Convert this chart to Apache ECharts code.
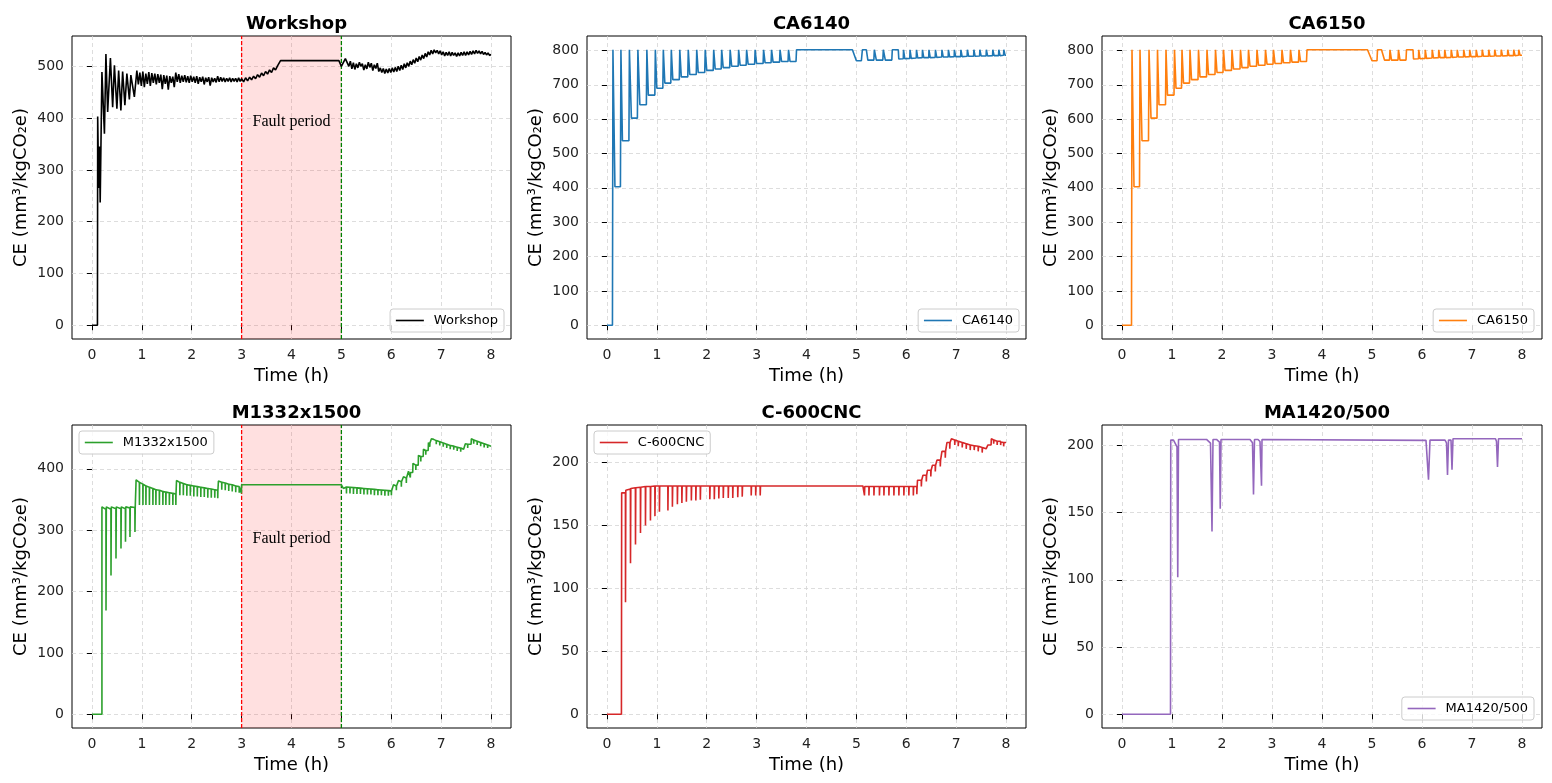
<!DOCTYPE html>
<html><head><meta charset="utf-8">
<script src="https://cdn.jsdelivr.net/npm/echarts@6/dist/echarts.min.js"></script>
<style>html,body{margin:0;padding:0;background:#fff}#chart{width:1552px;height:783px}</style>
</head><body><div id="chart"></div>
<script>
// ---------------- data (time in h, CE in mm³/kgCO2e) ----------------
const xTicks = [0,1,2,3,4,5,6,7,8];
const yTicksWorkshop = [0,100,200,300,400,500];
const yTicksCA = [0,100,200,300,400,500,600,700,800];
const yTicksM1332 = [0,100,200,300,400];
const yTicksC600 = [0,50,100,150,200];
const yTicksMA = [0,50,100,150,200];
const faultStart = 3, faultEnd = 5, faultText = 'Fault period';
const faultLabelWorkshop = [4, 392];
const faultLabelM1332 = [4, 286];

const workshop = [
[0,0],[0.11,0],[0.115,403],[0.135,265],[0.15,345],[0.165,237],[0.2,489],[0.25,370],[0.28,524],[0.315,412],[0.37,516],[0.415,421],[0.45,502],[0.5,418],[0.535,492],[0.58,415],[0.615,490],[0.66,425],[0.7,486],[0.75,436],[0.78,483],[0.85,441],[0.9,492],
[0.93,465],[0.96,488],[0.99,462],[1.02,490],[1.05,460],[1.08,486],[1.11,466],[1.14,489],[1.17,462],[1.2,487],[1.23,468],[1.26,486],[1.29,465],[1.32,485],[1.35,468],[1.38,484],[1.41,456],[1.44,483],[1.47,466],[1.5,482],[1.53,455],[1.56,481],[1.59,468],[1.62,480],[1.65,460],[1.68,488],[1.71,470],[1.74,485],[1.77,468],[1.8,482],[1.83,470],[1.86,483],[1.89,469],[1.92,481],[1.95,468],[1.98,482],[2.01,470],[2.04,480],[2.07,468],[2.1,481],[2.13,466],[2.16,479],[2.19,470],[2.22,480],[2.25,465],[2.28,478],[2.31,470],[2.34,479],[2.37,463],[2.4,478],[2.43,470],[2.46,477],[2.49,469],[2.52,481],[2.55,470],[2.58,479],[2.61,471],[2.64,478],[2.67,470],[2.7,477],[2.73,471],[2.76,478],[2.79,470],[2.82,477],[2.85,471],[2.88,477],[2.91,470],[2.94,478],[2.97,471],[3.0,476],
[3.04,470],[3.08,478],[3.12,472],[3.16,479],[3.2,474],[3.24,481],[3.28,476],[3.32,484],[3.36,479],[3.4,487],[3.44,482],[3.48,490],[3.52,485],[3.56,493],[3.6,488],[3.64,497],[3.68,493],[3.72,501],[3.76,498],[3.78,511],[4.95,511],[5.0,500],
[5.04,498],[5.08,515],[5.12,512],[5.15,500],[5.18,510],[5.21,495],[5.24,507],[5.27,494],[5.3,505],[5.33,497],[5.36,508],[5.39,500],[5.42,505],[5.45,493],[5.48,503],[5.51,495],[5.54,508],[5.57,498],[5.6,506],[5.63,492],[5.66,503],[5.69,496],[5.72,506],[5.75,490],[5.78,497],[5.81,488],[5.84,496],[5.87,486],[5.9,495],[5.93,487],[5.96,496],[5.99,488],[6.02,497],[6.05,489],[6.08,498],[6.11,490],[6.14,500],[6.17,492],[6.2,502],[6.23,494],[6.26,505],[6.29,497],[6.32,507],[6.35,500],[6.38,510],[6.41,503],[6.44,513],[6.47,506],[6.5,516],[6.53,509],[6.56,519],[6.59,512],[6.62,522],[6.65,515],[6.68,525],[6.71,518],[6.74,528],[6.77,522],[6.8,531],[6.83,524],[6.86,532],[6.89,526],[6.92,531],[6.95,524],[6.98,530],[7.01,522],[7.04,528],[7.07,520],[7.1,527],[7.13,521],[7.16,528],[7.19,520],[7.22,527],[7.25,521],[7.28,526],[7.31,519],[7.34,526],[7.37,520],[7.4,527],[7.43,521],[7.46,528],[7.49,521],[7.52,528],[7.55,522],[7.58,529],[7.61,523],[7.64,530],[7.67,524],[7.7,531],[7.73,525],[7.76,530],[7.79,524],[7.82,529],[7.85,523],[7.88,527],[7.91,522],[7.94,526],[7.97,521],[8.0,523]
];

const ca6140 = [
[0,0],[0.11,0],[0.12,802],[0.15,802],[0.16,403],[0.27,403],[0.28,802],[0.30,802],[0.31,537],[0.44,537],[0.45,802],[0.48,802],[0.49,603],[0.61,603],[0.62,802],[0.65,802],[0.66,642],[0.79,642],[0.80,802],[0.82,802],[0.83,670],[0.96,670],[0.97,802],[0.99,802],[1.00,690],[1.12,690],[1.13,802],[1.15,802],[1.16,705],[1.28,705],[1.29,802],[1.31,802],[1.32,715],[1.45,715],[1.46,802],[1.48,802],[1.49,723],[1.62,723],[1.63,802],[1.65,802],[1.66,730],[1.79,730],[1.80,802],[1.82,802],[1.83,736],[1.96,736],[1.97,802],[1.99,802],[2.00,742],[2.13,742],[2.14,802],[2.16,802],[2.17,746],[2.29,746],[2.30,802],[2.32,802],[2.33,750],[2.46,750],[2.47,802],[2.49,802],[2.50,754],[2.63,754],[2.64,802],[2.66,802],[2.67,757],[2.79,757],[2.80,802],[2.82,802],[2.83,760],[2.96,760],[2.97,802],[2.99,802],[3.00,762],[3.13,762],[3.14,802],[3.16,802],[3.17,764],[3.29,764],[3.30,802],[3.32,802],[3.33,766],[3.46,766],[3.47,802],[3.49,802],[3.50,768],[3.63,768],[3.64,802],[3.66,802],[3.67,768],[3.79,768],[3.80,802],[4.92,802],[5.00,770],[5.10,770],[5.12,802],[5.20,802],[5.23,772],[5.35,772],[5.36,802],[5.39,802],[5.40,772],[5.53,772],[5.54,802],[5.57,802],[5.58,772],[5.71,772],[5.72,802],[5.84,802],[5.85,775],
[5.94,776],[5.945,802],[5.965,802],[5.97,776],[6.07,777],[6.075,802],[6.095,802],[6.10,777],[6.20,778],[6.205,802],[6.225,802],[6.23,778],[6.32,779],[6.325,802],[6.345,802],[6.35,779],[6.45,779],[6.455,802],[6.475,802],[6.48,779],[6.58,780],[6.585,802],[6.605,802],[6.61,780],[6.71,781],[6.715,802],[6.735,802],[6.74,781],[6.84,781],[6.845,802],[6.865,802],[6.87,781],[6.96,782],[6.965,802],[6.985,802],[6.99,782],[7.09,782],[7.095,802],[7.115,802],[7.12,782],[7.22,783],[7.225,802],[7.245,802],[7.25,783],[7.35,783],[7.355,802],[7.375,802],[7.38,783],[7.47,784],[7.475,802],[7.495,802],[7.50,784],[7.60,784],[7.605,802],[7.625,802],[7.63,784],[7.73,785],[7.735,802],[7.755,802],[7.76,785],[7.85,785],[7.855,802],[7.875,802],[7.88,785],[7.95,786],[7.955,802],[7.975,802],[7.98,786],[8.0,786]
];

const ca6150 = [
[0,0],[0.19,0],[0.2,802],[0.23,802],[0.24,403],[0.35,403],[0.36,802],[0.39,802],[0.40,537],[0.53,537],[0.54,802],[0.57,802],[0.58,603],[0.70,603],[0.71,802],[0.73,802],[0.74,642],[0.87,642],[0.88,802],[0.90,802],[0.91,670],[1.04,670],[1.05,802],[1.07,802],[1.08,690],[1.19,690],[1.20,802],[1.22,802],[1.23,705],[1.35,705],[1.36,802],[1.38,802],[1.39,715],[1.52,715],[1.53,802],[1.55,802],[1.56,723],[1.69,723],[1.70,802],[1.72,802],[1.73,730],[1.86,730],[1.87,802],[1.89,802],[1.90,736],[2.02,736],[2.03,802],[2.05,802],[2.06,742],[2.19,742],[2.20,802],[2.22,802],[2.23,746],[2.36,746],[2.37,802],[2.39,802],[2.40,750],[2.52,750],[2.53,802],[2.55,802],[2.56,754],[2.69,754],[2.70,802],[2.72,802],[2.73,757],[2.86,757],[2.87,802],[2.89,802],[2.90,760],[3.02,760],[3.03,802],[3.05,802],[3.06,762],[3.19,762],[3.20,802],[3.22,802],[3.23,764],[3.36,764],[3.37,802],[3.39,802],[3.40,766],[3.53,766],[3.54,802],[3.56,802],[3.57,768],[3.69,768],[3.70,802],[4.91,802],[5.00,770],[5.10,770],[5.11,802],[5.19,802],[5.25,772],[5.35,772],[5.36,802],[5.38,802],[5.39,772],[5.52,772],[5.53,802],[5.55,802],[5.56,772],[5.68,772],[5.69,802],[5.82,802],[5.83,775],
[5.93,776],[5.935,802],[5.955,802],[5.96,776],[6.06,777],[6.065,802],[6.085,802],[6.09,777],[6.20,778],[6.205,802],[6.225,802],[6.23,778],[6.33,779],[6.335,802],[6.355,802],[6.36,779],[6.45,779],[6.455,802],[6.475,802],[6.48,779],[6.58,780],[6.585,802],[6.605,802],[6.61,780],[6.70,781],[6.705,802],[6.725,802],[6.73,781],[6.83,781],[6.835,802],[6.855,802],[6.86,781],[6.95,782],[6.955,802],[6.975,802],[6.98,782],[7.08,782],[7.085,802],[7.105,802],[7.11,782],[7.20,783],[7.205,802],[7.225,802],[7.23,783],[7.33,783],[7.335,802],[7.355,802],[7.36,783],[7.45,784],[7.455,802],[7.475,802],[7.48,784],[7.58,784],[7.585,802],[7.605,802],[7.61,784],[7.71,785],[7.715,802],[7.735,802],[7.74,785],[7.83,785],[7.835,802],[7.855,802],[7.86,785],[7.93,786],[7.935,802],[7.955,802],[7.96,786],[8.0,786]
];

const m1332 = [
[0,0],[0.2,0],[0.2,338],[0.28,334],[0.282,169],[0.288,338],[0.38,334],[0.382,226],[0.388,338],[0.48,335],[0.482,254],[0.488,338],[0.58,335],[0.582,270],[0.588,338],[0.67,335],[0.672,281],[0.678,338],[0.76,336],[0.762,289],[0.768,338],[0.86,337],[0.862,297],[0.868,338],[0.88,338],[0.885,382],
[0.95,378],[0.952,341],[0.955,378],[1.02,375],[1.022,341],[1.025,375],[1.08,372],[1.082,341],[1.085,372],[1.15,370],[1.152,341],[1.155,370],[1.22,368],[1.222,341],[1.225,368],[1.28,366],[1.282,341],[1.285,366],[1.35,365],[1.352,341],[1.355,365],[1.42,363],[1.422,341],[1.425,363],[1.48,362],[1.482,341],[1.485,362],[1.55,361],[1.552,341],[1.555,361],[1.62,360],[1.622,341],[1.625,360],[1.68,359],[1.682,341],[1.685,359],[1.69,359],[1.695,381],
[1.76,378],[1.762,357],[1.765,378],[1.83,376],[1.832,357],[1.835,376],[1.9,374],[1.902,356],[1.905,374],[1.97,373],[1.972,356],[1.975,373],[2.04,372],[2.042,355],[2.045,372],[2.11,371],[2.112,355],[2.115,371],[2.18,370],[2.182,354],[2.185,370],[2.25,369],[2.252,354],[2.255,369],[2.32,368],[2.322,353],[2.325,368],[2.39,367],[2.392,353],[2.395,367],[2.46,366],[2.462,353],[2.465,366],[2.52,365],[2.522,352],[2.525,365],[2.53,365],[2.535,380],
[2.6,378],[2.602,366],[2.605,378],[2.67,377],[2.672,365],[2.675,377],[2.74,375],[2.742,364],[2.745,375],[2.81,374],[2.812,363],[2.815,374],[2.88,372],[2.882,362],[2.885,372],[2.95,371],[2.952,361],[2.955,371],[2.99,370],[2.995,360],[3.0,374],[5.0,374],[5.04,368],[5.07,371],
[5.1,370.5],[5.102,360],[5.105,370.5],[5.17,370],[5.172,360],[5.175,370],[5.24,369.5],[5.242,359],[5.245,369.5],[5.31,369],[5.312,359],[5.315,369],[5.38,368.5],[5.382,359],[5.385,368.5],[5.45,368],[5.452,358],[5.455,368],[5.52,367.5],[5.522,358],[5.525,367.5],[5.59,367],[5.592,358],[5.595,367],[5.66,366.5],[5.662,357],[5.665,366.5],[5.73,366],[5.732,357],[5.735,366],[5.8,365.5],[5.802,357],[5.805,365.5],[5.87,365],[5.872,356],[5.875,365],[5.94,364.5],[5.942,356],[5.945,364.5],[6.0,364],[6.002,357],[6.005,364],
[6.04,364],[6.045,374],[6.1,372],[6.102,365],[6.105,372],[6.14,372],[6.145,381],[6.2,379],[6.202,371],[6.205,379],[6.24,379],[6.245,387],[6.3,385],[6.302,377],[6.305,385],[6.34,385],[6.345,396],[6.38,394],[6.382,386],[6.385,394],[6.43,394],[6.435,409],[6.49,406],[6.492,398],[6.495,406],[6.54,406],[6.545,422],[6.59,420],[6.592,412],[6.595,420],[6.64,420],[6.645,432],[6.69,430],[6.692,423],[6.695,430],[6.74,430],[6.745,443],[6.77,442],[6.772,436],[6.775,442],[6.8,442],[6.805,449],[6.85,448],
[6.9,446],[6.902,440],[6.905,446],[6.97,444],[6.972,438],[6.975,444],[7.04,442],[7.042,436],[7.045,442],[7.11,440],[7.112,434],[7.115,440],[7.18,438],[7.182,432],[7.185,438],[7.25,437],[7.252,431],[7.255,437],[7.32,435],[7.322,429],[7.325,435],[7.39,434],[7.392,428],[7.395,434],[7.45,432],[7.48,432],[7.485,441],[7.53,440],[7.532,434],[7.535,440],[7.6,440],[7.605,449],[7.65,447],[7.652,441],[7.655,447],[7.72,445],[7.722,439],[7.725,445],[7.79,443],[7.792,437],[7.795,443],[7.86,441],[7.862,435],[7.865,441],[7.93,439],[7.932,434],[7.935,439],[8.0,437]
];

const c600 = [
[0,0],[0.29,0],[0.295,176],[0.37,176],[0.372,89],[0.378,178],[0.47,179],[0.472,120],[0.478,179.5],[0.57,180],[0.572,135],[0.578,180],[0.67,180.5],[0.672,144],[0.678,180.5],[0.77,181],[0.772,150],[0.778,181],[0.87,181],[0.872,154],[0.878,181],[0.96,181.5],[0.962,157.5],[0.968,181.5],[1.05,181.5],[1.052,161],[1.058,181.5],[1.22,181.5],[1.222,162],[1.228,181.5],[1.31,181.5],[1.312,165],[1.318,181.5],[1.41,181.5],[1.412,167],[1.418,181.5],[1.5,181.5],[1.502,168],[1.508,181.5],[1.59,181.5],[1.592,169],[1.598,181.5],[1.69,181.5],[1.692,170],[1.698,181.5],[1.78,181.5],[1.782,170],[1.788,181.5],[1.87,181.5],[1.872,170.5],[1.878,181.5],[2.06,181.5],[2.062,171],[2.068,181.5],[2.15,181.5],[2.152,171],[2.158,181.5],[2.24,181.5],[2.242,171.5],[2.248,181.5],[2.33,181.5],[2.332,172],[2.338,181.5],[2.43,181.5],[2.432,172],[2.438,181.5],[2.52,181.5],[2.522,172],[2.528,181.5],[2.62,181.5],[2.622,172.5],[2.628,181.5],[2.71,181.5],[2.712,173],[2.718,181.5],[2.89,181.5],[2.892,174],[2.898,181.5],[2.98,181.5],[2.982,174],[2.988,181.5],[3.07,181.5],[3.072,174],[3.078,181.5],
[5.13,181.5],[5.16,181],[5.162,174],[5.168,181],[5.25,181],[5.252,174],[5.258,181],[5.35,181],[5.352,174],[5.358,181],[5.46,181],[5.462,174],[5.468,181],[5.55,181],[5.552,174],[5.558,181],[5.65,181],[5.652,174],[5.658,181],[5.75,181],[5.752,174],[5.758,181],[5.85,181],[5.852,174],[5.858,181],[5.95,181],[5.952,174],[5.958,181],[6.05,181],[6.052,174],[6.058,181],[6.14,181],[6.142,174],[6.148,181],[6.21,181],[6.212,175],[6.218,181],
[6.22,181],[6.225,186],[6.3,186],[6.302,181],[6.308,186],[6.33,186],[6.335,190],[6.4,190],[6.402,185],[6.408,190],[6.42,190],[6.425,194],[6.49,194],[6.492,189],[6.498,194],[6.52,194],[6.525,198],[6.58,198],[6.582,193],[6.588,198],[6.61,198],[6.615,202],[6.68,202],[6.682,197],[6.688,202],[6.71,202],[6.715,209],[6.78,209],[6.782,204],[6.788,209],[6.81,209],[6.815,216],[6.87,216],[6.872,211],[6.878,216],[6.9,216],[6.905,219],
[6.97,218],[6.972,214],[6.978,218],[7.04,217],[7.042,213],[7.048,217],[7.12,216],[7.122,212],[7.128,216],[7.2,215],[7.202,211],[7.208,215],[7.28,214],[7.282,210],[7.288,214],[7.36,213.5],[7.362,210],[7.368,213.5],[7.44,213],[7.442,209],[7.448,213],[7.52,212],[7.522,208],[7.528,212],[7.6,211],[7.63,211],[7.635,214],[7.7,214],[7.705,219],[7.75,218],[7.752,215],[7.758,218],[7.82,217],[7.822,214],[7.828,217],[7.89,217],[7.892,214],[7.898,216.5],[7.95,216],[7.952,213],[7.958,216],[8.0,216]
];

const ma1420 = [
[0,0],[0.97,0],[0.975,204],[1.03,204],[1.1,199],[1.115,102],[1.13,204.5],[1.69,204.5],[1.77,201.7],[1.8,136],[1.82,204.5],[1.89,204.5],[1.95,202.5],[1.965,153],[1.98,204.5],[2.56,204.5],[2.61,202],[2.63,163.5],[2.65,204.5],[2.72,204.5],[2.76,203],[2.79,170],[2.8,204.5],[6.08,203.8],[6.1,203],[6.13,174.5],[6.16,204],[6.46,204],[6.49,202],[6.51,178],[6.53,204],[6.58,204],[6.6,182],[6.62,205],[7.47,205],[7.49,203],[7.51,184],[7.53,205],[8.0,205]
];

// ---------------- layout / styles ----------------
const FONT = "'DejaVu Sans', sans-serif";
const panels = [
  {name:'Workshop', data:workshop, color:'#000000', yMin:-26.6, yMax:558.6, yTicks:yTicksWorkshop, grid:{left:72,top:36,width:439,height:303}, legend:{right:1048,bottom:451}, fault:faultLabelWorkshop},
  {name:'CA6140', data:ca6140, color:'#1f77b4', yMin:-40.1, yMax:842.1, yTicks:yTicksCA, grid:{left:587,top:36,width:439,height:303}, legend:{right:533,bottom:451}},
  {name:'CA6150', data:ca6150, color:'#ff7f0e', yMin:-40.1, yMax:842.1, yTicks:yTicksCA, grid:{left:1102,top:36,width:440,height:303}, legend:{right:18,bottom:451}},
  {name:'M1332x1500', data:m1332, color:'#2ca02c', yMin:-22.45, yMax:471.45, yTicks:yTicksM1332, grid:{left:72,top:425,width:439,height:303}, legend:{left:79,top:431}, fault:faultLabelM1332},
  {name:'C-600CNC', data:c600, color:'#d62728', yMin:-10.95, yMax:229.95, yTicks:yTicksC600, grid:{left:587,top:425,width:439,height:303}, legend:{left:594,top:431}},
  {name:'MA1420/500', data:ma1420, color:'#9467bd', yMin:-10.25, yMax:215.25, yTicks:yTicksMA, grid:{left:1102,top:425,width:440,height:303}, legend:{right:18,bottom:63}}
];

const gridLine = {show:true, lineStyle:{color:'#d4d4d4', type:[4,3], width:0.8}};
const option = {
  animation:false,
  backgroundColor:'#ffffff',
  title:[], grid:[], xAxis:[], yAxis:[], legend:[], series:[]
};

function helper(i, name, data, extra) {
  return Object.assign({type:'line', name:name, xAxisIndex:i, yAxisIndex:i, data:data,
    symbol:'none', showSymbol:false, silent:true, emphasis:{disabled:true}, clip:true}, extra);
}

panels.forEach((p,i)=>{
  option.grid.push(Object.assign({show:true, borderColor:'#000', borderWidth:1, containLabel:false}, p.grid));
  option.title.push({text:p.name, left:p.grid.left + p.grid.width/2, top:p.grid.top - 26, textAlign:'center',
    textStyle:{fontFamily:FONT, fontSize:18, fontWeight:'bold', color:'#000'}});
  option.xAxis.push({type:'value', gridIndex:i, min:-0.4, max:8.4,
    name:'Time (h)', nameLocation:'middle', nameGap:28,
    nameTextStyle:{fontFamily:FONT, fontSize:18, color:'#000'},
    axisLine:{show:false},
    axisTick:{show:true, length:5, customValues:xTicks, lineStyle:{color:'#000', width:1}},
    axisLabel:{customValues:xTicks, fontFamily:FONT, fontSize:14, color:'#222', margin:9},
    splitLine:gridLine});
  option.yAxis.push({type:'value', gridIndex:i, min:p.yMin, max:p.yMax,
    name:'CE (mm³/kgCO₂e)', nameLocation:'middle', nameGap:42,
    nameTextStyle:{fontFamily:FONT, fontSize:18, color:'#000'},
    axisLine:{show:false},
    axisTick:{show:true, length:5, customValues:p.yTicks, lineStyle:{color:'#000', width:1}},
    axisLabel:{customValues:p.yTicks, fontFamily:FONT, fontSize:14, color:'#222', margin:8},
    splitLine:gridLine});
  option.legend.push(Object.assign({data:[p.name], orient:'vertical', itemWidth:28, itemHeight:14,
    padding:[5,6,5,5], borderColor:'#cccccc', borderWidth:1, borderRadius:3,
    backgroundColor:'rgba(255,255,255,0.8)',
    itemStyle:{opacity:0, borderWidth:0},
    lineStyle:{width:1.6, opacity:1},
    textStyle:{fontFamily:FONT, fontSize:13, color:'#000', padding:[0,0,0,5]}}, p.legend));

  if (p.fault) {
    option.series.push(helper(i, 'faultBand' + i, [[faultStart, p.yMax], [faultEnd, p.yMax]],
      {z:1, lineStyle:{width:0, opacity:0}, areaStyle:{color:'rgb(255,0,0)', opacity:0.12, origin:'start'}}));
    option.series.push(helper(i, 'faultStartLine' + i, [[faultStart, p.yMin], [faultStart, p.yMax]],
      {z:2, color:'#ff0000', lineStyle:{color:'#ff0000', width:1.3, type:[4,2]}}));
    option.series.push(helper(i, 'faultEndLine' + i, [[faultEnd, p.yMin], [faultEnd, p.yMax]],
      {z:2, color:'#008000', lineStyle:{color:'#008000', width:1.3, type:[4,2]}}));
  }
  const s = {type:'line', name:p.name, xAxisIndex:i, yAxisIndex:i, data:p.data,
    symbol:'none', showSymbol:false, color:p.color,
    lineStyle:{color:p.color, width:1.6}, emphasis:{disabled:true}, silent:true, clip:true, z:3};
  if (p.fault) {
    s.markPoint = {silent:true, symbol:'circle', symbolSize:1, itemStyle:{color:'rgba(0,0,0,0)'},
      label:{show:true, position:'inside', formatter:faultText, fontFamily:"'Liberation Serif', 'Times New Roman', serif", fontSize:16, color:'#000'},
      data:[{coord:p.fault}]};
  }
  option.series.push(s);
});

const chart = echarts.init(document.getElementById('chart'), null, {renderer:'canvas'});
chart.setOption(option);
</script></body></html>
